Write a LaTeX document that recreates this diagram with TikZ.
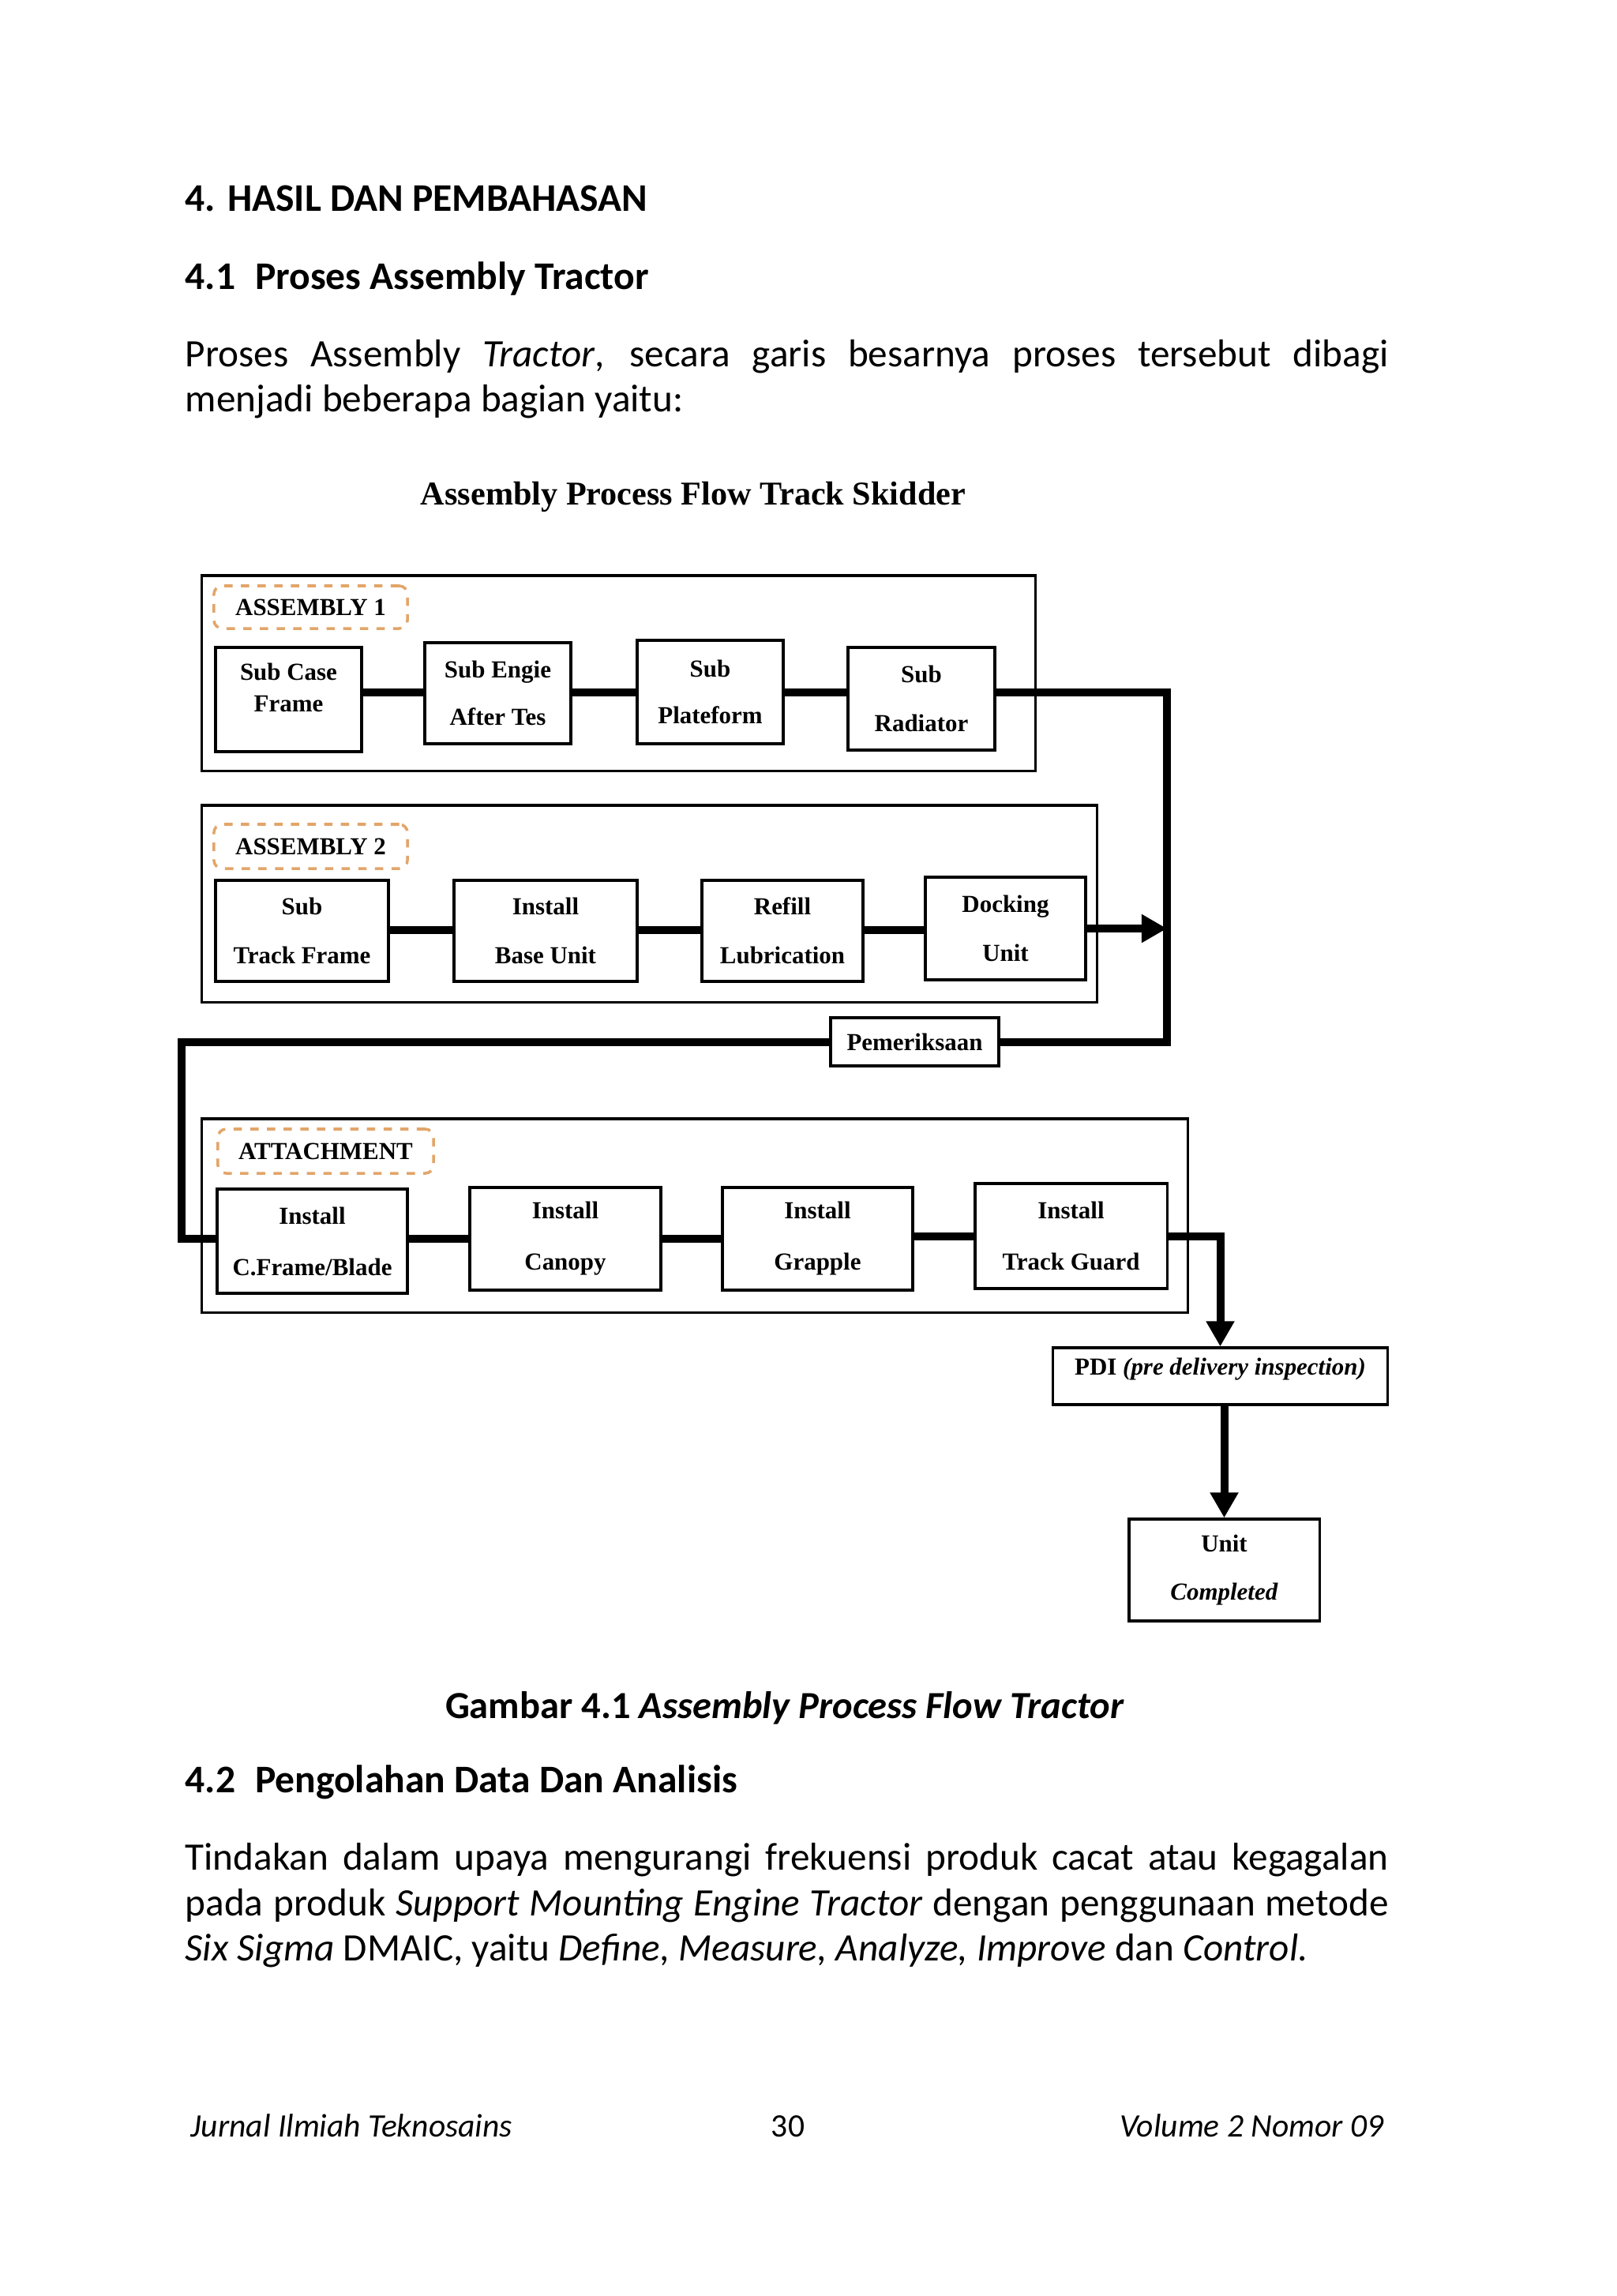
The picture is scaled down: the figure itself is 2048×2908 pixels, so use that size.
\documentclass[tikz,border=0pt]{standalone}
\usepackage{fontspec}
\setmainfont{Carlito}
\newfontfamily\diagfont{Liberation Serif}
\usetikzlibrary{arrows.meta}
\definecolor{lbldash}{RGB}{226,165,105}
\tikzset{
  stepbox/.style={draw,line width=0.9pt,fill=white,align=center,inner sep=0pt,
    font=\diagfont\fontsize{8.8}{10.5}\selectfont\bfseries},
  groupbox/.style={draw,line width=0.9pt,inner sep=0pt},
  grouplabel/.style={draw=lbldash,dashed,line width=1pt,rounded corners=3pt,inner sep=0pt,
    font=\diagfont\fontsize{8.8}{10.5}\selectfont\bfseries},
  link/.style={line width=0.1cm},
  flowarrow/.style={line width=0.1cm,-{Triangle[length=0.32cm,width=0.34cm]}},
  pagetext/.style={anchor=mid west,inner sep=0pt,font=\fontsize{14}{16}\selectfont},
}
\begin{document}
\begin{tikzpicture}[x=0.01cm,y=-0.01cm]
\useasboundingbox[fill=white] (0,0) rectangle (2048,2908);

\node[pagetext,font=\fontsize{14.1}{16}\selectfont\bfseries] (sec4) at (234,259) {4. HASIL DAN PEMBAHASAN};
\node[pagetext,font=\fontsize{14.1}{16}\selectfont\bfseries] (sec41) at (234,358) {4.1\enspace Proses Assembly Tractor};
\node[pagetext] (par1a) at (234,456) {\makebox[15.23cm][s]{Proses Assembly \textit{Tractor}, secara garis besarnya proses tersebut dibagi}};
\node[pagetext] (par1b) at (234,513) {menjadi beberapa bagian yaitu:};

\node[inner sep=0pt,font=\diagfont\fontsize{12}{14}\selectfont\bfseries] (title) at (878,629) {Assembly Process Flow Track Skidder};

\node[groupbox,minimum width=10.55cm,minimum height=2.47cm] (asm1) at (783.5,852.5) {};
\node[groupbox,minimum width=11.33cm,minimum height=2.49cm] (asm2) at (822.5,1144.5) {};
\node[groupbox,minimum width=12.48cm,minimum height=2.45cm] (attach) at (880,1539.5) {};

\node[grouplabel,minimum width=2.45cm,minimum height=0.54cm] (lbla) at (393.5,769) {ASSEMBLY 1};
\node[grouplabel,minimum width=2.45cm,minimum height=0.56cm] (lblb) at (393.5,1072) {ASSEMBLY 2};
\node[grouplabel,minimum width=2.73cm,minimum height=0.56cm] (lblc) at (412.5,1458) {ATTACHMENT};

\node[stepbox,minimum width=1.85cm,minimum height=1.32cm,text depth=0.3cm] (sc) at (365.5,886) {Sub Case\\[1pt]Frame};
\node[stepbox,minimum width=1.85cm,minimum height=1.28cm] (se) at (630.5,878) {Sub Engie\\[6.5pt]After Tes};
\node[stepbox,minimum width=1.85cm,minimum height=1.31cm] (sp) at (899.5,876.5) {Sub\\[6.5pt]Plateform};
\node[stepbox,minimum width=1.86cm,minimum height=1.30cm] (sr) at (1167,885) {Sub\\[7pt]Radiator};

\node[stepbox,minimum width=2.19cm,minimum height=1.28cm] (stf) at (382.5,1179) {Sub\\[7pt]Track Frame};
\node[stepbox,minimum width=2.32cm,minimum height=1.28cm] (ibu) at (691,1179) {Install\\[7pt]Base Unit};
\node[stepbox,minimum width=2.04cm,minimum height=1.28cm] (rl) at (991,1179) {Refill\\[7pt]Lubrication};
\node[stepbox,minimum width=2.03cm,minimum height=1.30cm] (dk) at (1273.5,1176) {Docking\\[7pt]Unit};

\node[stepbox,minimum width=2.13cm,minimum height=0.61cm] (pem) at (1158.5,1319.5) {Pemeriksaan};

\node[stepbox,minimum width=2.41cm,minimum height=1.32cm] (cf) at (395.5,1572) {Install\\[8pt]C.Frame/Blade};
\node[stepbox,minimum width=2.42cm,minimum height=1.30cm] (ic) at (716,1569) {Install\\[8pt]Canopy};
\node[stepbox,minimum width=2.41cm,minimum height=1.30cm] (ig) at (1035.5,1569) {Install\\[8pt]Grapple};
\node[stepbox,minimum width=2.43cm,minimum height=1.33cm] (tg) at (1356.5,1565.5) {Install\\[8pt]Track Guard};

\node[stepbox,minimum width=4.23cm,minimum height=0.72cm,text depth=0.25cm] (pdi) at (1545.5,1743) {PDI \textit{(pre delivery inspection)}};
\node[stepbox,minimum width=2.41cm,minimum height=1.29cm] (uc) at (1550.5,1988.5) {Unit\\[7pt]\textit{Completed}};

\coordinate (rowa) at (0,877);
\coordinate (rowb) at (0,1178);
\coordinate (rowc) at (0,1569);
\coordinate (rail) at (1478,0);
\coordinate (lrail) at (230,0);

\draw[link] (sc.east |- rowa) -- (se.west |- rowa);
\draw[link] (se.east |- rowa) -- (sp.west |- rowa);
\draw[link] (sp.east |- rowa) -- (sr.west |- rowa);
\draw[link] (sr.east |- rowa) -| (rail |- pem.east) -- (pem.east);

\draw[link] (stf.east |- rowb) -- (ibu.west |- rowb);
\draw[link] (ibu.east |- rowb) -- (rl.west |- rowb);
\draw[link] (rl.east |- rowb) -- (dk.west |- rowb);
\draw[flowarrow] (dk.east) -- (rail |- dk.east);

\draw[link] (pem.west) -| (lrail |- rowc) -- (cf.west |- rowc);
\draw[link] (cf.east |- rowc) -- (ic.west |- rowc);
\draw[link] (ic.east |- rowc) -- (ig.west |- rowc);
\draw[link] (ig.east |- tg.east) -- (tg.west);
\draw[flowarrow] (tg.east) -| (pdi.north);
\draw[flowarrow] (pdi.south -| uc.north) -- (uc.north);

\node[inner sep=0pt,font=\fontsize{13.8}{16}\selectfont\bfseries] (caption) at (994,2163) {Gambar 4.1 \textit{Assembly Process Flow Tractor}};
\node[pagetext,font=\fontsize{14.1}{16}\selectfont\bfseries] (sec42) at (234,2262) {4.2\enspace Pengolahan Data Dan Analisis};
\node[pagetext] (par2a) at (234,2360) {\makebox[15.23cm][s]{Tindakan dalam upaya mengurangi frekuensi produk cacat atau kegagalan}};
\node[pagetext] (par2b) at (234,2418) {\makebox[15.23cm][s]{pada produk \textit{Support Mounting Engine Tractor} dengan penggunaan metode}};
\node[pagetext] (par2c) at (234,2475) {\textit{Six Sigma} DMAIC, yaitu \textit{Define, Measure, Analyze, Improve} dan \textit{Control.}};

\node[pagetext,font=\fontsize{11.8}{13}\selectfont\itshape] (jrn) at (241,2698) {Jurnal Ilmiah Teknosains};
\node[inner sep=0pt,anchor=mid,font=\fontsize{11.8}{13}\selectfont] (pgno) at (998,2698) {30};
\node[inner sep=0pt,anchor=mid east,font=\fontsize{11.8}{13}\selectfont\itshape] (vol) at (1753,2698) {Volume 2 Nomor 09};
\end{tikzpicture}
\end{document}
